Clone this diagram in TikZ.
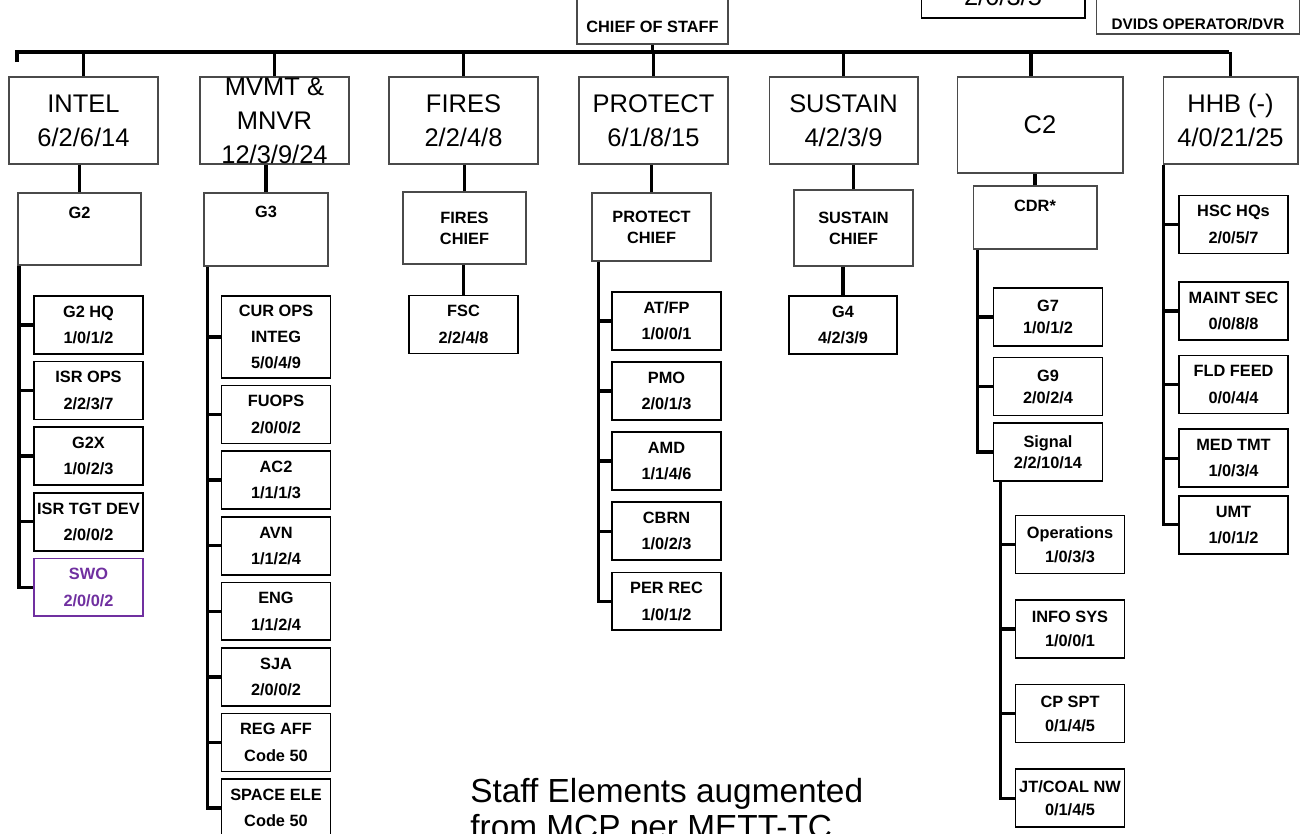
\documentclass[tikz,border=0pt]{standalone}
\usepackage{fontspec}
\setmainfont{Liberation Sans}
\usetikzlibrary{positioning}
\definecolor{SwoPurple}{HTML}{7030A0}
\definecolor{EdgeGray}{HTML}{4A4A4A}

\begin{document}
\begin{tikzpicture}[x=0.02cm, y=-0.02cm,
  head/.style={draw=EdgeGray, line width=0.6pt, minimum width=2.98cm, minimum height=1.74cm,
               inner sep=0pt, align=center, font=\fontsize{14.5}{19.3}\selectfont},
  lead/.style={draw=EdgeGray, line width=0.6pt, inner sep=0pt, align=center,
               font=\bfseries\fontsize{9.3}{12}\selectfont},
  unit/.style={draw, line width=0.9pt, minimum width=2.18cm, minimum height=1.16cm,
               inner sep=0pt, align=center, font=\bfseries\fontsize{9.3}{15}\selectfont},
  conn/.style={line width=1.9pt},
]
  \useasboundingbox (0,0) rectangle (1300,833);
  \fill[white] (0,0) rectangle (1300,833);
  \clip (0,0) rectangle (1300,833);

  \node[lead, minimum width=3.02cm, text height=1.04cm, text depth=0.24cm] (chief) at (652.5,12) {CHIEF OF STAFF};
  \node[draw, line width=0.6pt, minimum width=3.28cm, inner sep=0pt, text height=1.1cm, text depth=0.26cm,
        font=\fontsize{14.5}{17}\selectfont] (staff) at (1003,-16) {2/0/3/5};
  \node[lead, minimum width=4.08cm, text height=1.18cm, text depth=0.1cm,
        font=\bfseries\fontsize{8.7}{10}\selectfont] (dvids) at (1198,2) {DVIDS OPERATOR/DVR};

  \node[head] (intel)   at (83.5,120.5)  {INTEL\\6/2/6/14};
  \node[head] (mvmt)    at (274.5,120.5) {MVMT \&\\MNVR\\12/3/9/24};
  \node[head] (fires)   at (463.5,120.5) {FIRES\\2/2/4/8};
  \node[head] (protect) at (653.5,120.5) {PROTECT\\6/1/8/15};
  \node[head] (sustain) at (843.5,120.5) {SUSTAIN\\4/2/3/9};
  \node[head, minimum width=3.32cm, minimum height=1.92cm] (ctwo) at (1040,125) {C2};
  \node[head, minimum width=2.7cm] (hhb) at (1230.5,120.5) {HHB (-)\\4/0/21/25};

  \coordinate (busl) at (17,52);
  \coordinate (busr) at (1229,52);
  \draw[conn] ([yshift=-0.2cm]busl) -- (busl) -- (busr);
  \draw[conn] (chief.south) -- (chief.south |- busl);
  \foreach \c in {intel,mvmt,fires,protect,sustain,hhb}
    \draw[conn] (\c.north) -- (\c.north |- busl);
  \draw[conn] ([xshift=-0.18cm]ctwo.north) -- ([xshift=-0.18cm]ctwo.north |- busl);

  \node[lead, minimum width=2.46cm, text height=0.5cm, text depth=0.94cm] (g2) at (79.5,229) {G2};
  \node[lead, minimum width=2.48cm, text height=0.48cm, text depth=0.98cm] (g3) at (266,229.5) {G3};
  \node[lead, minimum width=2.46cm, minimum height=1.44cm] (fireschief) at (464.5,228) {FIRES\\CHIEF};
  \node[lead, minimum width=2.38cm, minimum height=1.36cm] (protectchief) at (651.5,227) {PROTECT\\CHIEF};
  \node[lead, minimum width=2.38cm, minimum height=1.52cm] (sustainchief) at (853.5,228) {SUSTAIN\\CHIEF};
  \node[lead, minimum width=2.48cm, text height=0.5cm, text depth=0.76cm] (cdr) at (1035,217.5) {CDR*};

  \draw[conn] (g2.north) -- (g2.north |- intel.south);
  \draw[conn] (g3.north) -- (g3.north |- mvmt.south);
  \draw[conn] (fireschief.north) -- (fireschief.north |- fires.south);
  \draw[conn] (protectchief.north) -- (protectchief.north |- protect.south);
  \draw[conn] (sustainchief.north) -- (sustainchief.north |- sustain.south);
  \draw[conn] (cdr.north) -- (cdr.north |- ctwo.south);

  \node[unit] (g2hq) at (88.5,325) {G2 HQ\\1/0/1/2};
  \node[unit, below=0.12cm of g2hq] (isrops) {ISR OPS\\2/2/3/7};
  \node[unit, below=0.12cm of isrops] (g2x) {G2X\\1/0/2/3};
  \node[unit, below=0.12cm of g2x] (isrtgt) {ISR TGT DEV\\2/0/0/2};
  \node[unit, below=0.12cm of isrtgt, draw=SwoPurple, text=SwoPurple] (swo) {SWO\\2/0/0/2};

  \node[unit, minimum height=1.64cm] (curops) at (276,337) {CUR OPS\\INTEG\\5/0/4/9};
  \node[unit, below=0.12cm of curops] (fuops) {FUOPS\\2/0/0/2};
  \node[unit, below=0.12cm of fuops] (ac2) {AC2\\1/1/1/3};
  \node[unit, below=0.12cm of ac2] (avn) {AVN\\1/1/2/4};
  \node[unit, below=0.12cm of avn] (eng) {ENG\\1/1/2/4};
  \node[unit, below=0.12cm of eng] (sja) {SJA\\2/0/0/2};
  \node[unit, below=0.12cm of sja] (regaff) {REG AFF\\Code 50};
  \node[unit, below=0.12cm of regaff] (spaceele) {SPACE ELE\\Code 50};

  \node[unit] (fsc) at (463.5,324.5) {FSC\\2/2/4/8};

  \node[unit] (atfp) at (666.5,321) {AT/FP\\1/0/0/1};
  \node[unit, below=0.21cm of atfp] (pmo) {PMO\\2/0/1/3};
  \node[unit, below=0.21cm of pmo] (amd) {AMD\\1/1/4/6};
  \node[unit, below=0.21cm of amd] (cbrn) {CBRN\\1/0/2/3};
  \node[unit, below=0.21cm of cbrn] (perrec) {PER REC\\1/0/1/2};

  \node[unit, minimum width=2.16cm] (g4) at (843,325) {G4\\4/2/3/9};

  \node[unit, font=\bfseries\fontsize{9.3}{12.5}\selectfont] (g7) at (1048,317) {G7\\1/0/1/2};
  \node[unit, below=0.2cm of g7, font=\bfseries\fontsize{9.3}{12.5}\selectfont] (g9) {G9\\2/0/2/4};
  \node[unit, below=0.12cm of g9, font=\bfseries\fontsize{9.3}{12}\selectfont] (signal) {Signal\\2/2/10/14};

  \node[unit, font=\bfseries\fontsize{9.3}{13.5}\selectfont] (operations) at (1070,544.5) {Operations\\1/0/3/3};
  \node[unit, below=0.5cm of operations, font=\bfseries\fontsize{9.3}{13.5}\selectfont] (infosys) {INFO SYS\\1/0/0/1};
  \node[unit, below=0.5cm of infosys, font=\bfseries\fontsize{9.3}{13.5}\selectfont] (cpspt) {CP SPT\\0/1/4/5};
  \node[unit, below=0.5cm of cpspt, font=\bfseries\fontsize{9.3}{13.5}\selectfont] (jtcoal) {JT/COAL NW\\0/1/4/5};

  \node[unit] (hschq) at (1233.5,224.5) {HSC HQs\\2/0/5/7};
  \node[unit, below=0.54cm of hschq] (maint) {MAINT SEC\\0/0/8/8};
  \node[unit, below=0.28cm of maint] (fldfeed) {FLD FEED\\0/0/4/4};
  \node[unit, below=0.28cm of fldfeed] (medtmt) {MED TMT\\1/0/3/4};
  \node[unit, below=0.14cm of medtmt] (umt) {UMT\\1/0/1/2};

  \draw[conn] (fsc.north) -- (fsc.north |- fireschief.south);
  \draw[conn] (g4.north) -- (g4.north |- sustainchief.south);

  \coordinate (g2t) at ([xshift=0.03cm]g2.south west);
  \draw[conn] (g2t) |- (swo.west);
  \foreach \n in {g2hq,isrops,g2x,isrtgt}
    \draw[conn] (\n.west) -- (g2t |- \n.west);

  \coordinate (g3t) at ([xshift=0.08cm]g3.south west);
  \draw[conn] (g3t) |- (spaceele.west);
  \foreach \n in {curops,fuops,ac2,avn,eng,sja,regaff}
    \draw[conn] (\n.west) -- (g3t |- \n.west);

  \coordinate (prt) at ([xshift=0.14cm]protectchief.south west);
  \draw[conn] (prt) |- (perrec.west);
  \foreach \n in {atfp,pmo,amd,cbrn}
    \draw[conn] (\n.west) -- (prt |- \n.west);

  \coordinate (cdrt) at ([xshift=0.1cm]cdr.south west);
  \draw[conn] (cdrt) |- (signal.west);
  \foreach \n in {g7,g9}
    \draw[conn] (\n.west) -- (cdrt |- \n.west);

  \coordinate (sigt) at ([xshift=0.16cm]signal.south west);
  \draw[conn] (sigt) |- (jtcoal.west);
  \foreach \n in {operations,infosys,cpspt}
    \draw[conn] (\n.west) -- (sigt |- \n.west);

  \coordinate (hhbt) at ([xshift=0.02cm]hhb.south west);
  \draw[conn] (hhbt) |- (umt.west);
  \foreach \n in {hschq,maint,fldfeed,medtmt}
    \draw[conn] (\n.west) -- (hhbt |- \n.west);

  \node[anchor=north west, inner sep=0pt, align=left, font=\fontsize{19}{20.5}\selectfont] (note)
    at (470,778) {Staff Elements augmented\\from MCP per METT-TC};
\end{tikzpicture}
\end{document}
